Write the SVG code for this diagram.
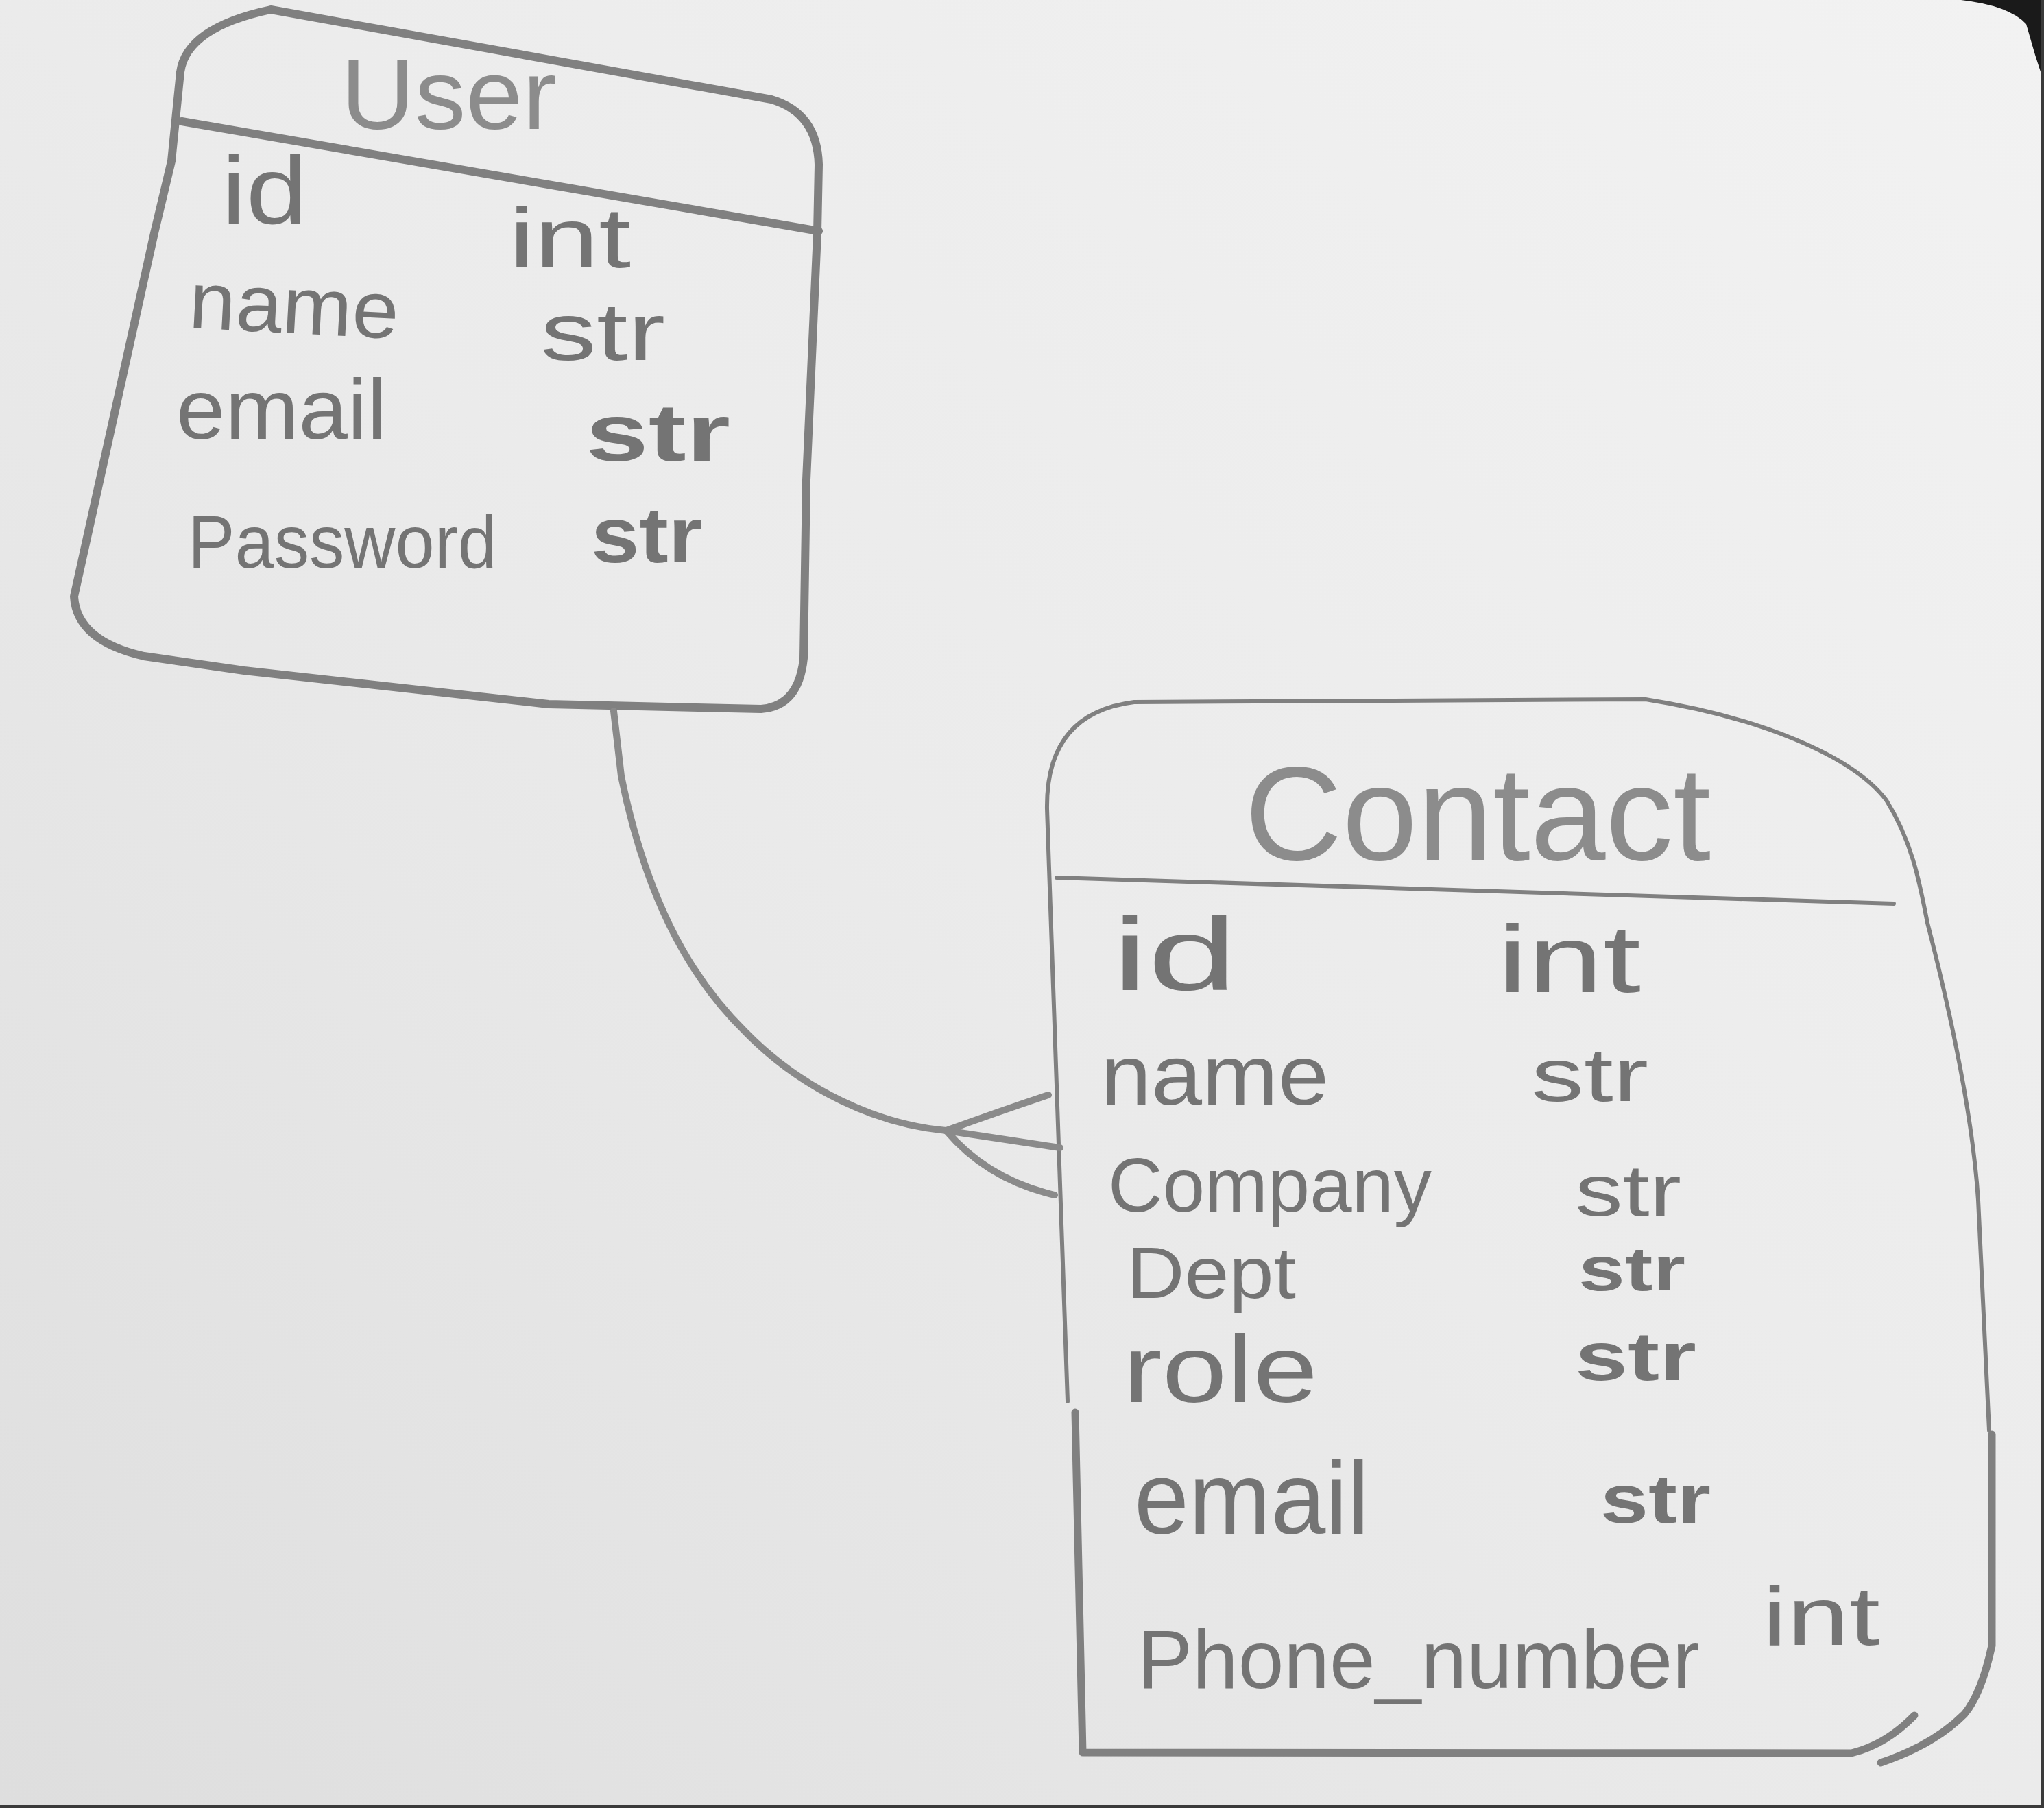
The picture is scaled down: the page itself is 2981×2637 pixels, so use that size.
<svg xmlns="http://www.w3.org/2000/svg" width="2981" height="2637" viewBox="0 0 2981 2637">
<defs>
<linearGradient id="bg" x1="1" y1="0" x2="0" y2="1">
<stop offset="0" stop-color="#f2f2f2"/>
<stop offset="0.5" stop-color="#ebebeb"/>
<stop offset="1" stop-color="#dedede"/>
</linearGradient>
<style>
.box{fill:none;stroke:#808080;stroke-linecap:round;stroke-linejoin:round}
.u{stroke-width:12}
.c{stroke-width:6}
.ct{stroke-width:11}
.conn{fill:none;stroke:#8a8a8a;stroke-width:10;stroke-linecap:round;stroke-linejoin:round}
.t{font-family:"Liberation Sans",Arial,sans-serif;fill:#747474}
.title{font-family:"Liberation Sans",Arial,sans-serif;fill:#8c8c8c}
</style>
</defs>
<rect width="2981" height="2637" fill="url(#bg)"/>
<path d="M 2860 0 Q 2930 8 2955 35 L 2968 80 L 2981 120 L 2981 0 Z" fill="#1a1a1a"/>
<rect x="2977" y="0" width="4" height="2637" fill="#3a3a3a"/>
<rect x="0" y="2633" width="2981" height="4" fill="#3a3a3a"/>
<g id="user">
<path class="box u" d="M 395 14 L 1125 145 Q 1192 165 1194 240 L 1192 340 L 1176 700 L 1172 960 Q 1165 1030 1110 1034 L 800 1027 L 356 978 L 210 957 Q 112 935 108 870 L 225 340 L 250 235 L 263 105 Q 272 40 395 14"/>
<path class="box u" d="M 265 177 Q 700 250 1194 337"/>
<text class="title" x="497" y="188" font-size="145" textLength="315" lengthAdjust="spacingAndGlyphs">User</text>
<text class="t" x="323" y="326" font-size="140" textLength="125" lengthAdjust="spacingAndGlyphs">id</text>
<text class="t" x="742" y="390" font-size="125" textLength="178" lengthAdjust="spacingAndGlyphs">int</text>
<text class="t" x="274" y="478" font-size="118" textLength="306" lengthAdjust="spacingAndGlyphs" transform="rotate(3 274 478)">name</text>
<text class="t" x="788" y="525" font-size="118" textLength="182" lengthAdjust="spacingAndGlyphs">str</text>
<text class="t" x="257" y="640" font-size="125" textLength="307" lengthAdjust="spacingAndGlyphs">email</text>
<text class="t" x="854" y="672" font-size="118" font-weight="bold" textLength="211" lengthAdjust="spacingAndGlyphs">str</text>
<text class="t" x="274" y="828" font-size="110" textLength="451" lengthAdjust="spacingAndGlyphs">Password</text>
<text class="t" x="862" y="820" font-size="115" font-weight="bold" textLength="162" lengthAdjust="spacingAndGlyphs">str</text>
</g>
<g id="contact">
<path class="box c" d="M 1557 2044 L 1527 1180 Q 1525 1040 1654 1024 L 2400 1020 C 2560 1045 2700 1100 2751 1167 C 2790 1230 2800 1290 2811 1346 C 2830 1420 2875 1600 2885 1750 L 2901 2086"/>
<path class="box ct" d="M 1568 2060 L 1579 2556 L 2700 2557 Q 2750 2545 2792 2502"/>
<path class="box ct" d="M 2905 2092 L 2905 2400 Q 2890 2470 2865 2500 Q 2820 2545 2743 2571"/>
<path class="box c" d="M 1541 1280 L 2762 1318"/>
<text class="title" x="1815" y="1254" font-size="195" textLength="680" lengthAdjust="spacingAndGlyphs">Contact</text>
<text class="t" x="1622" y="1444" font-size="150" textLength="182" lengthAdjust="spacingAndGlyphs">id</text>
<text class="t" x="2184" y="1447" font-size="140" textLength="209" lengthAdjust="spacingAndGlyphs">int</text>
<text class="t" x="1605" y="1611" font-size="125" textLength="333" lengthAdjust="spacingAndGlyphs">name</text>
<text class="t" x="2233" y="1606" font-size="110" textLength="171" lengthAdjust="spacingAndGlyphs">str</text>
<text class="t" x="1616" y="1767" font-size="112" textLength="472" lengthAdjust="spacingAndGlyphs">Company</text>
<text class="t" x="2297" y="1773" font-size="105" textLength="155" lengthAdjust="spacingAndGlyphs">str</text>
<text class="t" x="1643" y="1893" font-size="105" textLength="247" lengthAdjust="spacingAndGlyphs">Dept</text>
<text class="t" x="2302" y="1882" font-size="90" font-weight="bold" textLength="156" lengthAdjust="spacingAndGlyphs">str</text>
<text class="t" x="1638" y="2045" font-size="140" textLength="284" lengthAdjust="spacingAndGlyphs">role</text>
<text class="t" x="2297" y="2013" font-size="100" font-weight="bold" textLength="177" lengthAdjust="spacingAndGlyphs">str</text>
<text class="t" x="1654" y="2237" font-size="150" textLength="343" lengthAdjust="spacingAndGlyphs">email</text>
<text class="t" x="2334" y="2221" font-size="100" font-weight="bold" textLength="161" lengthAdjust="spacingAndGlyphs">str</text>
<text class="t" x="1659" y="2462" font-size="120" textLength="820" lengthAdjust="spacingAndGlyphs">Phone_number</text>
<text class="t" x="2570" y="2399" font-size="120" textLength="172" lengthAdjust="spacingAndGlyphs">int</text>
</g>
<g id="connectors">
<path class="conn" d="M 895 1037 L 906 1132 C 940 1300 1000 1420 1087 1505 C 1170 1590 1280 1640 1380 1649"/>
<path class="conn" d="M 1380 1649 Q 1460 1620 1529 1597"/>
<path class="conn" d="M 1380 1649 L 1546 1674"/>
<path class="conn" d="M 1380 1649 Q 1440 1720 1538 1743"/>
</g>
</svg>
